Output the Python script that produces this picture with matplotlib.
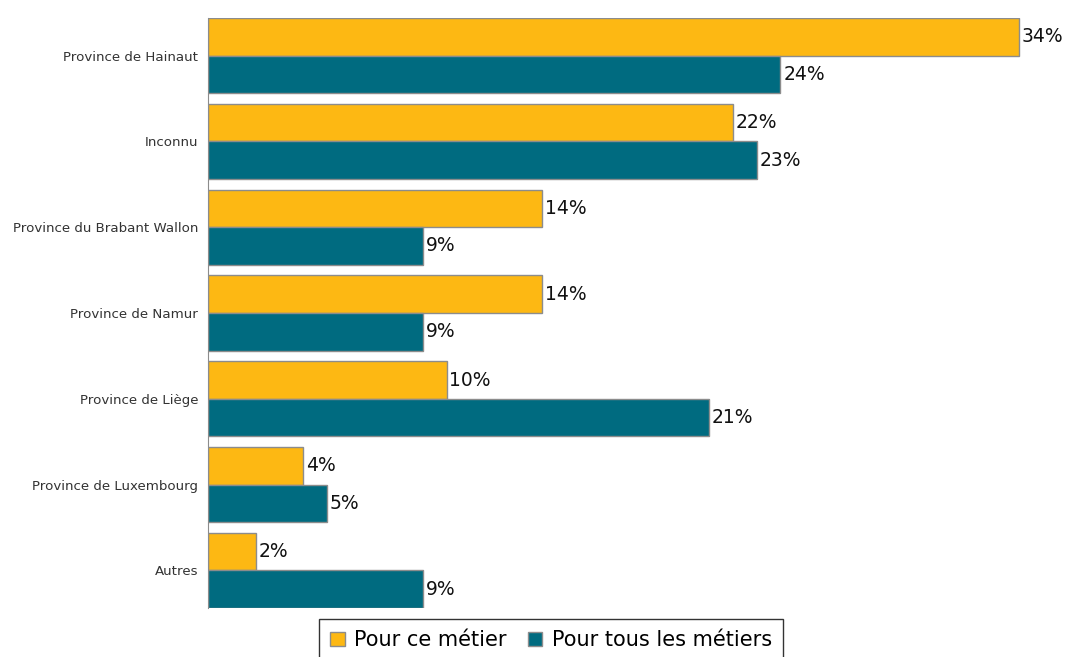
import numpy as np
import matplotlib.pyplot as plt

categories = ["Province de Hainaut", "Inconnu", "Province du Brabant Wallon",
              "Province de Namur", "Province de Liège", "Province de Luxembourg",
              "Autres"]
ce_metier = [34, 22, 14, 14, 10, 4, 2]
tous_metiers = [24, 23, 9, 9, 21, 5, 9]
series_names = ["Pour ce métier", "Pour tous les métiers"]

yellow = "#FDB813"
teal = "#006B80"

fig = plt.figure(figsize=(10.76, 6.57), dpi=100)
ax = fig.add_axes([208/1076, 1-608/657, 1-208/1076, 590/657])

y = np.arange(len(categories))
h = 0.4375
b1 = ax.barh(y - h/2, ce_metier, height=h, color=yellow, edgecolor="#8c8c8c",
             linewidth=1, label=series_names[0])
b2 = ax.barh(y + h/2, tous_metiers, height=h, color=teal, edgecolor="#8c8c8c",
             linewidth=1, label=series_names[1])

# value labels at the end of each bar
for bars, vals in ((b1, ce_metier), (b2, tous_metiers)):
    for bar, v in zip(bars, vals):
        ax.annotate(f"{v}%", (bar.get_width(), bar.get_y() + bar.get_height()/2),
                    xytext=(2, 0), textcoords="offset points", va="center",
                    ha="left", fontsize=13.5, color="#111111")

ax.set_ylim(len(categories) - 1 + h, -h)
ax.set_xlim(0, (1076 - 208) / 23.85)
ax.set_yticks(y)
ax.set_yticklabels(categories, fontsize=9.6, color="#333333")
ax.tick_params(axis="y", length=0, pad=7)
ax.set_xticks([])
for s in ("top", "right", "bottom"):
    ax.spines[s].set_visible(False)
ax.spines["left"].set_color("#8c8c8c")

leg = fig.legend(loc="upper center", bbox_to_anchor=(551/1076, 1-619/657),
                 ncol=2, fontsize=15, frameon=True, fancybox=False,
                 handlelength=0.7, handleheight=0.7, handletextpad=0.45,
                 columnspacing=1.0, borderpad=0.55, borderaxespad=0)
leg.get_frame().set_edgecolor("black")
leg.get_frame().set_linewidth(1)

fig.savefig("out.png", dpi=100)
